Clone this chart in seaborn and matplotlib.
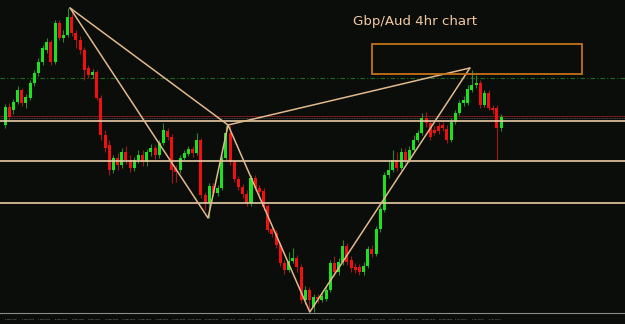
import numpy as np
import pandas as pd
import seaborn as sns
import matplotlib
matplotlib.use("Agg")
import matplotlib.pyplot as plt
from matplotlib.patches import Rectangle

# ---------------- data (GBP/AUD, 4h candles) ----------------
opens = [1.8375, 1.8393, 1.8390, 1.8398, 1.8410, 1.8397, 1.8402, 1.8417, 1.8427, 1.8438,
         1.8450, 1.8458, 1.8438, 1.8477, 1.8462, 1.8465, 1.8483, 1.8467, 1.8460, 1.8450,
         1.8432, 1.8425, 1.8428, 1.8402, 1.8365, 1.8355, 1.8330, 1.8342, 1.8335, 1.8348,
         1.8340, 1.8332, 1.8340, 1.8345, 1.8338, 1.8348, 1.8352, 1.8345, 1.8357, 1.8369,
         1.8363, 1.8332, 1.8330, 1.8342, 1.8346, 1.8351, 1.8347, 1.8360, 1.8305, 1.8297,
         1.8314, 1.8307, 1.8312, 1.8342, 1.8367, 1.8338, 1.8321, 1.8313, 1.8306, 1.8297,
         1.8322, 1.8312, 1.8309, 1.8294, 1.8271, 1.8267, 1.8255, 1.8237, 1.8230, 1.8239,
         1.8242, 1.8233, 1.8200, 1.8210, 1.8193, 1.8203, 1.8200, 1.8201, 1.8210, 1.8237,
         1.8228, 1.8238, 1.8254, 1.8240, 1.8233, 1.8233, 1.8228, 1.8234, 1.8251, 1.8246,
         1.8271, 1.8290, 1.8325, 1.8330, 1.8340, 1.8332, 1.8348, 1.8340, 1.8350, 1.8360,
         1.8367, 1.8382, 1.8377, 1.8370, 1.8374, 1.8375, 1.8371, 1.8360, 1.8378, 1.8387,
         1.8397, 1.8397, 1.8410, 1.8415, 1.8417, 1.8395, 1.8407, 1.8392, 1.8392, 1.8372]
closes = [1.8393, 1.8383, 1.8398, 1.8410, 1.8397, 1.8403, 1.8417, 1.8427, 1.8438, 1.8452,
          1.8458, 1.8438, 1.8477, 1.8462, 1.8465, 1.8483, 1.8467, 1.8460, 1.8450, 1.8430,
          1.8425, 1.8428, 1.8402, 1.8365, 1.8352, 1.8330, 1.8342, 1.8335, 1.8348, 1.8340,
          1.8332, 1.8340, 1.8345, 1.8338, 1.8348, 1.8352, 1.8345, 1.8357, 1.8370, 1.8363,
          1.8330, 1.8328, 1.8342, 1.8347, 1.8351, 1.8347, 1.8360, 1.8305, 1.8297, 1.8314,
          1.8307, 1.8312, 1.8342, 1.8367, 1.8338, 1.8321, 1.8313, 1.8306, 1.8297, 1.8322,
          1.8312, 1.8308, 1.8293, 1.8270, 1.8266, 1.8255, 1.8237, 1.8230, 1.8239, 1.8242,
          1.8233, 1.8200, 1.8210, 1.8200, 1.8203, 1.8201, 1.8204, 1.8210, 1.8237, 1.8228,
          1.8238, 1.8254, 1.8238, 1.8232, 1.8230, 1.8228, 1.8234, 1.8251, 1.8246, 1.8271,
          1.8291, 1.8325, 1.8330, 1.8340, 1.8332, 1.8348, 1.8340, 1.8350, 1.8360, 1.8367,
          1.8382, 1.8377, 1.8363, 1.8367, 1.8369, 1.8372, 1.8360, 1.8378, 1.8387, 1.8397,
          1.8400, 1.8411, 1.8415, 1.8417, 1.8395, 1.8407, 1.8392, 1.8390, 1.8372, 1.8383]
highs = [1.8396, 1.8397, 1.8401, 1.8414, 1.8412, 1.8406, 1.8420, 1.8430, 1.8442, 1.8455,
         1.8462, 1.8460, 1.8480, 1.8480, 1.8470, 1.8492, 1.8492, 1.8470, 1.8464, 1.8453,
         1.8435, 1.8431, 1.8430, 1.8405, 1.8370, 1.8360, 1.8345, 1.8347, 1.8352, 1.8354,
         1.8345, 1.8343, 1.8350, 1.8350, 1.8351, 1.8356, 1.8355, 1.8360, 1.8377, 1.8372,
         1.8366, 1.8335, 1.8345, 1.8350, 1.8354, 1.8354, 1.8367, 1.8362, 1.8308, 1.8317,
         1.8317, 1.8315, 1.8345, 1.8375, 1.8375, 1.8340, 1.8324, 1.8316, 1.8310, 1.8325,
         1.8325, 1.8315, 1.8312, 1.8296, 1.8274, 1.8270, 1.8258, 1.8240, 1.8248, 1.8252,
         1.8245, 1.8236, 1.8214, 1.8213, 1.8206, 1.8206, 1.8207, 1.8215, 1.8240, 1.8244,
         1.8242, 1.8260, 1.8257, 1.8244, 1.8237, 1.8236, 1.8238, 1.8254, 1.8255, 1.8274,
         1.8294, 1.8328, 1.8340, 1.8350, 1.8348, 1.8352, 1.8352, 1.8354, 1.8365, 1.8370,
         1.8387, 1.8388, 1.8380, 1.8374, 1.8378, 1.8378, 1.8375, 1.8382, 1.8390, 1.8400,
         1.8404, 1.8415, 1.8430, 1.8425, 1.8420, 1.8410, 1.8410, 1.8395, 1.8395, 1.8386]
lows = [1.8372, 1.8380, 1.8386, 1.8396, 1.8394, 1.8392, 1.8400, 1.8414, 1.8424, 1.8435,
        1.8447, 1.8435, 1.8436, 1.8460, 1.8458, 1.8463, 1.8464, 1.8452, 1.8446, 1.8420,
        1.8422, 1.8422, 1.8400, 1.8360, 1.8348, 1.8325, 1.8327, 1.8330, 1.8332, 1.8336,
        1.8328, 1.8329, 1.8337, 1.8334, 1.8334, 1.8344, 1.8341, 1.8342, 1.8355, 1.8360,
        1.8317, 1.8318, 1.8327, 1.8340, 1.8344, 1.8343, 1.8345, 1.8302, 1.8290, 1.8282,
        1.8304, 1.8304, 1.8310, 1.8340, 1.8335, 1.8318, 1.8310, 1.8302, 1.8294, 1.8294,
        1.8310, 1.8305, 1.8290, 1.8268, 1.8263, 1.8252, 1.8234, 1.8226, 1.8228, 1.8237,
        1.8228, 1.8197, 1.8196, 1.8190, 1.8188, 1.8197, 1.8198, 1.8199, 1.8208, 1.8224,
        1.8225, 1.8235, 1.8235, 1.8228, 1.8227, 1.8225, 1.8225, 1.8232, 1.8243, 1.8244,
        1.8268, 1.8288, 1.8322, 1.8328, 1.8329, 1.8330, 1.8337, 1.8338, 1.8348, 1.8358,
        1.8365, 1.8373, 1.8360, 1.8365, 1.8366, 1.8369, 1.8357, 1.8358, 1.8376, 1.8385,
        1.8394, 1.8395, 1.8408, 1.8412, 1.8392, 1.8393, 1.8390, 1.8386, 1.8340, 1.8369]

tick_labels = ["6 Mar 2018", "6 Mar 16:00", "7 Mar 08:00", "8 Mar 00:00", "8 Mar 16:00",
               "9 Mar 08:00", "12 Mar 00:00", "12 Mar 16:00", "13 Mar 08:00", "14 Mar 00:00",
               "14 Mar 16:00", "15 Mar 08:00", "16 Mar 00:00", "16 Mar 16:00", "19 Mar 08:00",
               "20 Mar 00:00", "20 Mar 16:00", "21 Mar 08:00", "22 Mar 00:00", "22 Mar 16:00",
               "23 Mar 08:00", "26 Mar 00:00", "26 Mar 16:00", "27 Mar 08:00", "28 Mar 00:00",
               "28 Mar 16:00", "29 Mar 08:00", "2 Apr 00:00", "2 Apr 16:00", "3 Apr 08:00"]

# horizontal levels
level_lines = [1.8379, 1.8339, 1.8297]
red_level = 1.8384
grey_level = 1.8382
green_level = 1.8422

# harmonic pattern points X, A, B, C, D (bar index, price)
pattern_names = ["X", "A", "B", "C", "D"]
pattern_bar = [15.6, 48.7, 53.5, 73.1, 111.5]
pattern_price = [1.8492, 1.8282, 1.8375, 1.8188, 1.8432]

# target zone box
zone_bars = [88.0, 138.4]
zone_prices = [1.8426, 1.8456]

title_text = "Gbp/Aud 4hr chart"

# ---------------- plotting ----------------
sns.set_style("dark")
df = pd.DataFrame({"open": opens, "close": closes, "high": highs, "low": lows})
df["bar"] = np.arange(len(df))
df["up"] = df["close"] >= df["open"]

BG = "#0b0d0b"
fig = plt.figure(figsize=(6.25, 3.24), dpi=100, facecolor=BG)
ax = fig.add_axes([0, 11 / 324, 1, 313 / 324])
ax.set_facecolor(BG)

up_body, dn_body = "#1ee01e", "#f01010"
up_wick, dn_wick = "#2a8a2a", "#a01818"

# level lines (behind candles)
ax.axhline(green_level, color="#1f6a1f", lw=0.8, ls=(0, (4, 2, 1, 2)), zorder=1)
ax.axhline(red_level, color="#7a1a1a", lw=0.7, zorder=1)
ax.axhline(grey_level, color="#5a5a5a", lw=0.6, ls=(0, (1, 1)), zorder=1)
for lv in level_lines:
    ax.axhline(lv, color="#e8cba4", lw=1.2, zorder=4)

# wicks
ax.vlines(df["bar"], df["low"], df["high"],
          colors=np.where(df["up"], up_wick, dn_wick), lw=0.8, zorder=2)
# bodies
body_bottom = np.minimum(df["open"], df["close"])
body_height = np.maximum(np.abs(df["close"] - df["open"]), 0.00008)
ax.bar(df["bar"], body_height, bottom=body_bottom, width=0.72,
       color=np.where(df["up"], up_body, dn_body), linewidth=0, zorder=3)

# pattern lines XA, AB, BC, CD, XB, BD
pat = pd.DataFrame({"bar": pattern_bar, "price": pattern_price, "pt": pattern_names})
line_col = "#e2b98c"
sns.lineplot(data=pat, x="bar", y="price", sort=False, color=line_col, lw=1.1, ax=ax, zorder=5)
for a, b in [(0, 2), (2, 4)]:
    seg = pat.iloc[[a, b]]
    sns.lineplot(data=seg, x="bar", y="price", sort=False, color=line_col, lw=1.1, ax=ax, zorder=5)

# target zone
ax.add_patch(Rectangle((zone_bars[0], zone_prices[0]), zone_bars[1] - zone_bars[0],
                       zone_prices[1] - zone_prices[0], fill=False,
                       edgecolor="#c4731a", lw=1.3, zorder=5))

ax.text(83.5, 1.8478, title_text, color="#f2c9a0", fontsize=9.6,
        ha="left", va="center", zorder=6)

ax.set_xlim(-1.2, 148.7)
ax.set_ylim(1.8187, 1.8500)
ax.set_xlabel("")
ax.set_ylabel("")
ax.set_yticks([])
tick_pos = np.arange(0, 4 * len(tick_labels), 4)
ax.set_xticks(tick_pos)
ax.set_xticklabels(tick_labels, fontsize=1.45, color="#9a9a9a", ha="left")
ax.tick_params(axis="x", length=2, width=0.5, color="#7a7a7a", pad=2.0, direction="out")
for s in ["top", "right", "left"]:
    ax.spines[s].set_visible(False)
ax.spines["bottom"].set_color("#8a8a8a")
ax.spines["bottom"].set_linewidth(0.8)
ax.grid(False)
if ax.get_legend() is not None:
    ax.get_legend().remove()

fig.savefig("out.png", dpi=100, facecolor=BG)
